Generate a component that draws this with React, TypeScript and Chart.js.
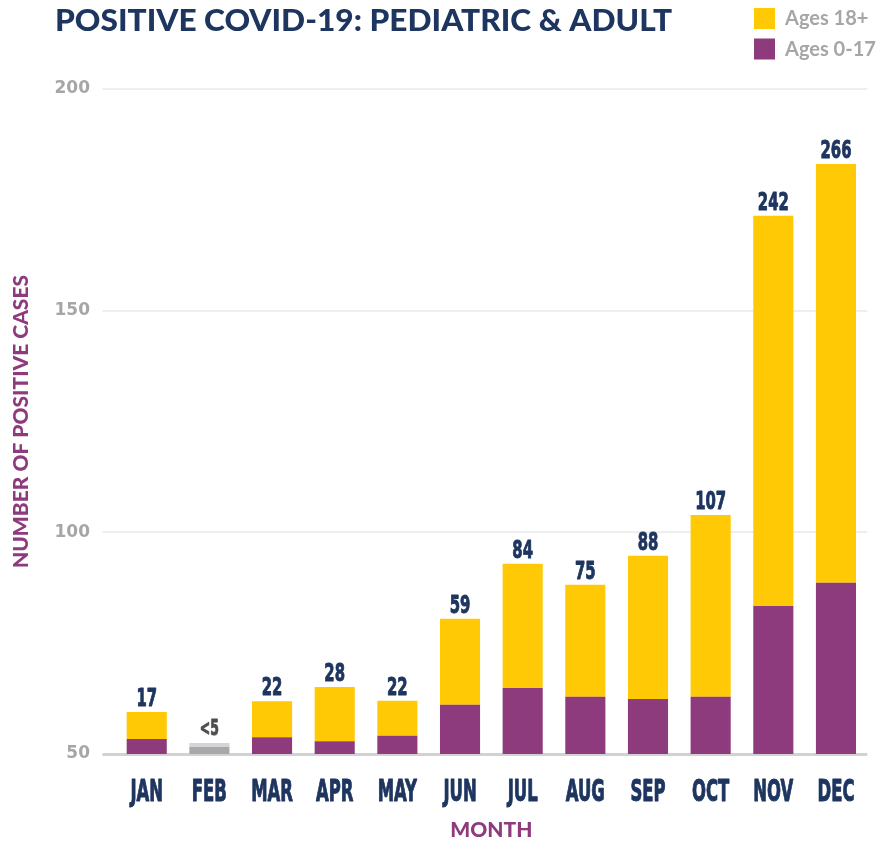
import React, { useEffect, useRef } from 'react';
import { Chart, registerables } from 'chart.js';

Chart.register(...registerables);

const months = ['JAN', 'FEB', 'MAR', 'APR', 'MAY', 'JUN', 'JUL', 'AUG', 'SEP', 'OCT', 'NOV', 'DEC'];
// Axis values (bars begin at the 50 baseline)
const pediatricTop = [53.4, 51.6, 53.8, 52.9, 54.1, 61.1, 64.9, 62.9, 62.4, 62.9, 83.4, 88.6];
const adultSegment = [6.1, 0.9, 8.1, 12.2, 7.9, 19.4, 28.0, 25.3, 32.3, 41.0, 88.0, 94.5];
const totalLabels = ['17', '<5', '22', '28', '22', '59', '84', '75', '88', '107', '242', '266'];
const suppressed = [false, true, false, false, false, false, false, false, false, false, false, false];
const yTickValues = [50, 100, 150, 200];

const NAVY = '#1e3560';
const PURPLE = '#8e3b7e';
const YELLOW = '#ffc905';
const GRAY_DARK = '#a7a8aa';
const GRAY_LIGHT = '#d5d5d7';
const TEXT_GRAY = '#a6a6a6';

const TITLE = 'POSITIVE COVID-19: PEDIATRIC & ADULT';
const NARROW = '"Liberation Sans Narrow", "DejaVu Sans Condensed", sans-serif';

const textPlugin = {
  id: 'customTexts',
  afterDatasetsDraw(chart: any) {
    const ctx: CanvasRenderingContext2D = chart.ctx;
    const xScale = chart.scales.x;
    const topMeta = chart.getDatasetMeta(1);

    // value labels above bars (condensed display face)
    ctx.save();
    ctx.font = `bold 25px ${NARROW}`;
    const kNum = 31 / ctx.measureText('242').width;
    ctx.restore();
    topMeta.data.forEach((el: any, i: number) => {
      ctx.save();
      const small = suppressed[i];
      const color = small ? '#4d4d4d' : NAVY;
      ctx.translate(el.x, el.y - (small ? 8 : 6));
      ctx.scale(kNum, 1);
      ctx.font = `bold ${small ? 21 : 25}px ${NARROW}`;
      ctx.fillStyle = color;
      ctx.strokeStyle = color;
      ctx.lineWidth = 0.9;
      ctx.lineJoin = 'round';
      ctx.textAlign = 'center';
      ctx.textBaseline = 'alphabetic';
      ctx.fillText(totalLabels[i], 0, 0);
      ctx.strokeText(totalLabels[i], 0, 0);
      ctx.restore();
    });

    // category labels
    ctx.save();
    ctx.font = `bold 31px ${NARROW}`;
    const kCat = 37 / ctx.measureText('DEC').width;
    ctx.restore();
    months.forEach((m, i) => {
      const px = xScale.getPixelForValue(i);
      ctx.save();
      ctx.translate(px, 801);
      ctx.scale(kCat, 1);
      ctx.font = `bold 31px ${NARROW}`;
      ctx.fillStyle = NAVY;
      ctx.strokeStyle = NAVY;
      ctx.lineWidth = 1;
      ctx.lineJoin = 'round';
      ctx.textAlign = 'center';
      ctx.textBaseline = 'alphabetic';
      ctx.fillText(m, 0, 0);
      ctx.strokeText(m, 0, 0);
      ctx.restore();
    });

    // title
    ctx.save();
    ctx.font = '900 31px Lato, sans-serif';
    const w = ctx.measureText(TITLE).width;
    ctx.translate(55, 31);
    ctx.scale(617 / w, 1);
    ctx.fillStyle = NAVY;
    ctx.textAlign = 'left';
    ctx.textBaseline = 'alphabetic';
    ctx.fillText(TITLE, 0, 0);
    ctx.restore();

    // legend (stacked vertically, top series first)
    const ds = chart.data.datasets;
    const order = [1, 0];
    order.forEach((di, row) => {
      const y0 = 8 + row * 30.5;
      ctx.save();
      ctx.fillStyle = di === 1 ? YELLOW : PURPLE;
      ctx.fillRect(754, y0, 21, 21);
      ctx.font = 'bold 20px Lato, sans-serif';
      ctx.fillStyle = TEXT_GRAY;
      ctx.textAlign = 'left';
      ctx.textBaseline = 'alphabetic';
      ctx.fillText(ds[di].label, 785, y0 + 17);
      ctx.restore();
    });
  },
};

export default function App() {
  const canvasRef = useRef<HTMLCanvasElement | null>(null);

  useEffect(() => {
    if (!canvasRef.current) return;
    const chart = new Chart(canvasRef.current, {
      type: 'bar',
      data: {
        labels: months,
        datasets: [
          {
            label: 'Ages 0-17',
            data: pediatricTop,
            backgroundColor: suppressed.map((s) => (s ? GRAY_DARK : PURPLE)),
            barPercentage: 0.64,
            categoryPercentage: 1,
            clip: 0,
          } as any,
          {
            label: 'Ages 18+',
            data: adultSegment,
            backgroundColor: suppressed.map((s) => (s ? GRAY_LIGHT : YELLOW)),
            barPercentage: 0.64,
            categoryPercentage: 1,
            clip: 0,
          } as any,
        ],
      },
      options: {
        responsive: false,
        animation: false,
        layout: { padding: { left: 0, right: 22.7, top: 89, bottom: 0 } },
        plugins: {
          legend: { display: false },
          title: { display: false },
          tooltip: { enabled: false },
        },
        scales: {
          x: {
            stacked: true,
            ticks: { display: false },
            grid: { display: false },
            border: { display: false },
            title: {
              display: true,
              text: 'MONTH',
              color: PURPLE,
              font: { family: 'Lato, sans-serif', weight: 900 as any, size: 21, lineHeight: 1 },
              padding: { top: 0, bottom: 0 },
            },
            afterFit: (s: any) => {
              s.height = 87;
            },
          },
          y: {
            stacked: true,
            min: yTickValues[0],
            max: yTickValues[yTickValues.length - 1],
            ticks: {
              stepSize: yTickValues[1] - yTickValues[0],
              color: TEXT_GRAY,
              padding: 12.4,
              font: { family: '"DejaVu Sans", sans-serif', weight: 'bold', size: 17 },
            },
            grid: {
              drawTicks: true,
              tickLength: 13,
              color: (c: any) => (c.tick && c.tick.value === yTickValues[0] ? '#d2d2d2' : '#eeeeee'),
              lineWidth: (c: any) => (c.tick && c.tick.value === yTickValues[0] ? 3 : 2),
            },
            border: { display: false },
            title: {
              display: true,
              text: 'NUMBER OF POSITIVE CASES',
              color: PURPLE,
              font: { family: 'Lato, sans-serif', weight: 900 as any, size: 21, lineHeight: 1 },
              padding: { top: 10.5, bottom: 0 },
            },
            afterFit: (s: any) => {
              s.width = 115.4;
            },
          },
        },
      },
      plugins: [textPlugin],
    });
    return () => chart.destroy();
  }, []);

  return (
    <div style={{ position: 'absolute', left: 0, top: 0, width: 890, height: 841, background: '#fff' }}>
      <canvas ref={canvasRef} width={890} height={841} style={{ display: 'block' }} />
    </div>
  );
}
